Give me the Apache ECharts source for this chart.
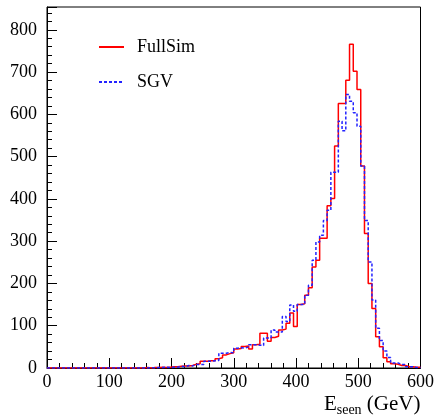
<!DOCTYPE html>
<html>
<head>
<meta charset="utf-8">
<script src="https://cdn.jsdelivr.net/npm/echarts@6/dist/echarts.min.js"></script>
<style>
  html, body { margin: 0; padding: 0; background: #fff; }
  #main { width: 437px; height: 417px; }
</style>
</head>
<body>
<div id="main"></div>
<script>
var binLow = 0;
var binWidth = 6;

// FullSim, 100 bins of 6 GeV from 0 to 600
var fullSim = [
  0, 0, 0, 0, 0, 0, 0, 0, 0, 0,
  0, 0, 0, 0, 0, 0, 0, 0, 0, 0,
  0, 0, 0, 0, 0, 0, 1, 0, 1, 1,
  2, 1, 2, 3, 3, 4, 5, 5, 6, 9,
  10, 16, 16, 17, 17, 22, 24, 31, 34, 36,
  45, 46, 51, 52, 45, 55, 56, 82, 82, 63,
  72, 75, 90, 92, 106, 130, 98, 150, 152, 172,
  190, 239, 255, 307, 307, 384, 401, 525, 626, 626,
  681, 766, 702, 659, 478, 318, 200, 141, 74, 50,
  24, 15, 10, 9, 6, 6, 3, 3, 2, 2
];

// SGV
var sgv = [
  0, 0, 0, 0, 0, 0, 0, 0, 0, 0,
  0, 0, 0, 0, 0, 0, 0, 0, 0, 0,
  0, 0, 0, 0, 0, 0, 0, 1, 0, 1,
  1, 2, 1, 2, 2, 4, 3, 6, 5, 8,
  8, 8, 16, 16, 17, 18, 35, 35, 37, 36,
  47, 48, 47, 50, 55, 55, 54, 53, 71, 71,
  90, 85, 85, 122, 110, 149, 134, 150, 150, 172,
  196, 255, 298, 314, 349, 373, 463, 463, 584, 561,
  647, 631, 604, 572, 478, 349, 251, 161, 94, 65,
  40, 25, 12, 12, 8, 8, 3, 3, 1, 1
];

var xTicks = [0, 100, 200, 300, 400, 500, 600];
var yTicks = [0, 100, 200, 300, 400, 500, 600, 700, 800];

function toSteps(vals) {
  var pts = [];
  for (var i = 0; i < vals.length; i++) {
    pts.push([binLow + i * binWidth, vals[i]]);
  }
  pts.push([binLow + vals.length * binWidth, vals[vals.length - 1]]);
  return pts;
}

var font = 'Liberation Serif';
var myChart = echarts.init(document.getElementById('main'));

var option = {
  animation: false,
  backgroundColor: '#fff',
  grid: {
    left: 47, right: 15, top: 7, bottom: 46,
    show: true, borderColor: '#000', borderWidth: 1
  },
  legend: {
    left: 98, top: 38, orient: 'vertical', padding: 0,
    itemGap: 17, itemWidth: 25, itemHeight: 14,
    itemStyle: { opacity: 0 },
    textStyle: { fontFamily: font, fontSize: 18, color: '#000', padding: [0, 0, 0, 8] },
    data: ['FullSim', 'SGV']
  },
  xAxis: {
    type: 'value', min: 0, max: 600, interval: 100,
    axisLine: { lineStyle: { color: '#000', width: 1 } },
    axisTick: { inside: true, length: 10, lineStyle: { color: '#000' } },
    minorTick: { show: true, splitNumber: 5, length: 5, lineStyle: { color: '#000' } },
    splitLine: { show: false },
    axisLabel: { fontFamily: font, fontSize: 18, color: '#000', margin: 5,
      formatter: function (v) { return xTicks.indexOf(v) >= 0 ? String(v) : ''; } },
    name: '{e|E}{s|seen}{e| (GeV)}',
    nameLocation: 'end', nameGap: 0,
    nameTextStyle: {
      align: 'right', verticalAlign: 'top', padding: [23, 0, 0, 0],
      rich: {
        e: { fontFamily: font, fontSize: 21, color: '#000' },
        s: { fontFamily: font, fontSize: 14, color: '#000', verticalAlign: 'bottom', padding: [12, 0, 0, 0] }
      }
    }
  },
  yAxis: {
    type: 'value', min: 0, max: 854, interval: 100,
    axisLine: { show: true, lineStyle: { color: '#000', width: 1 } },
    axisTick: { show: true, inside: true, length: 10, lineStyle: { color: '#000' } },
    minorTick: { show: true, splitNumber: 5, length: 5, lineStyle: { color: '#000' } },
    splitLine: { show: false },
    axisLabel: { fontFamily: font, fontSize: 18, color: '#000', margin: 10, showMaxLabel: false,
      formatter: function (v) { return yTicks.indexOf(v) >= 0 ? String(v) : ''; } }
  },
  series: [
    {
      name: 'FullSim', type: 'line', step: 'end', symbol: 'none',
      data: toSteps(fullSim),
      lineStyle: { color: '#ff0000', width: 1.5 },
      itemStyle: { color: '#ff0000' }, z: 2
    },
    {
      name: 'SGV', type: 'line', step: 'end', symbol: 'none',
      data: toSteps(sgv),
      lineStyle: { color: '#2222ff', width: 1.5, type: [3, 2] },
      itemStyle: { color: '#2222ff' }, z: 3
    }
  ]
};

myChart.setOption(option);
</script>
</body>
</html>
